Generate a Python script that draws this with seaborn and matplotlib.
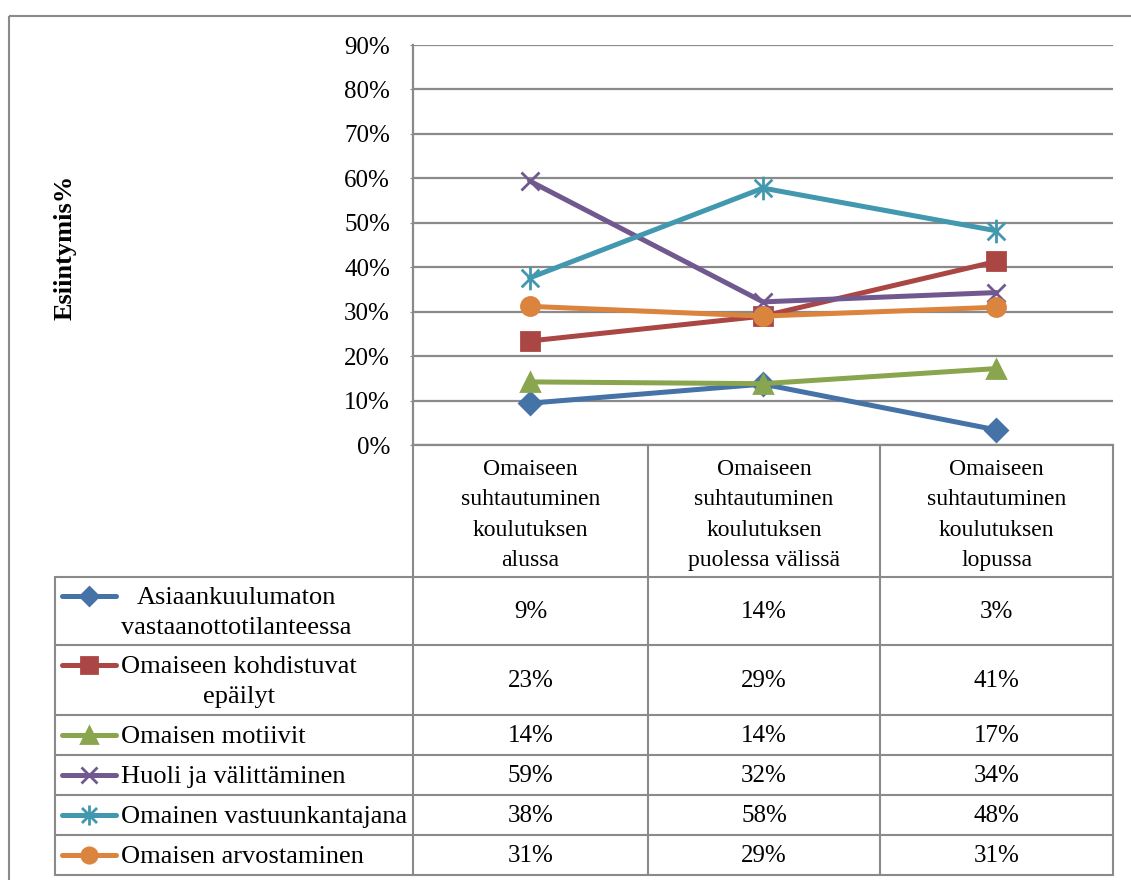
import numpy as np
import pandas as pd
import matplotlib.pyplot as plt
import seaborn as sns
from matplotlib.patches import Rectangle
from matplotlib.path import Path

# Data
stages = [
    "Omaiseen\nsuhtautuminen\nkoulutuksen\nalussa",
    "Omaiseen\nsuhtautuminen\nkoulutuksen\npuolessa välissä",
    "Omaiseen\nsuhtautuminen\nkoulutuksen\nlopussa",
]
series = [
    "Asiaankuulumaton\nvastaanottotilanteessa",
    "Omaiseen kohdistuvat\nepäilyt",
    "Omaisen motiivit",
    "Huoli ja välittäminen",
    "Omainen vastuunkantajana",
    "Omaisen arvostaminen",
]
asiaankuulumaton = [0.094, 0.137, 0.034]
epailyt = [0.234, 0.290, 0.413]
motiivit = [0.142, 0.138, 0.172]
huoli = [0.594, 0.322, 0.343]
vastuu = [0.376, 0.578, 0.482]
arvostaminen = [0.312, 0.290, 0.310]
values = [asiaankuulumaton, epailyt, motiivit, huoli, vastuu, arvostaminen]

# Excel-like star marker: an X with a vertical bar
star = Path([(0, -1), (0, 1), (-0.75, -0.75), (0.75, 0.75), (-0.75, 0.75), (0.75, -0.75)],
            [Path.MOVETO, Path.LINETO] * 3)

colors = ["#4572A7", "#AA4643", "#89A54E", "#71588F", "#4198AF", "#DB843D"]
markers = ["D", "s", "^", "x", star, "o"]
msizes = [11, 13, 13, 13, 17, 13]

df = pd.DataFrame({
    "series": np.repeat(series, len(stages)),
    "pos": np.tile(np.arange(len(stages)), len(series)),
    "value": np.concatenate(values),
})

sns.set_style("white")
plt.rcParams["font.family"] = ["Liberation Serif", "DejaVu Serif"]
plt.rcParams["text.color"] = "black"
plt.rcParams["ytick.labelcolor"] = "black"
grid_c = "#8a8a8a"

fig = plt.figure(figsize=(11.31, 8.8), dpi=100)

# Background axes in pixel coordinates for the frame and data table
tab = fig.add_axes([0, 0, 1, 1])
tab.set_xlim(0, 1131)
tab.set_ylim(880, 0)
tab.axis("off")

# outer frame
tab.add_patch(Rectangle((9, 16), 1140, 900, fill=False, ec=grid_c, lw=1.5))

# main chart
ax = fig.add_axes([413 / 1131, 1 - 445 / 880, 700 / 1131, 400 / 880])
ax.set_facecolor("none")
for name, c, m, ms in zip(series, colors, markers, msizes):
    sub = df[df["series"] == name]
    sns.lineplot(data=sub, x="pos", y="value", color=c, marker=m, ms=ms,
                 mew=2, mec=c, mfc=c, lw=3.6, ax=ax)

ax.set_xlim(-0.5, len(stages) - 0.5)
ax.set_ylim(0, 0.9)
ax.set_yticks(np.arange(0, 0.91, 0.1))
ax.set_yticklabels([f"{v:.0%}" for v in np.arange(0, 0.91, 0.1)], fontsize=18)
ax.set_xticks([])
ax.set_xlabel("")
ax.set_ylabel("")
ax.tick_params(axis="y", length=2.5, color=grid_c, pad=14, left=True)
ax.yaxis.grid(True, color=grid_c, lw=1.6)
for s in ["top", "right"]:
    ax.spines[s].set_visible(False)
for s in ["left", "bottom"]:
    ax.spines[s].set_color(grid_c)
    ax.spines[s].set_linewidth(1.6)

fig.text(65 / 1131, 1 - 247 / 880, "Esiintymis%", rotation=90, ha="center",
         va="center", fontsize=19, fontweight="bold")

# table layout (pixels)
col_edges = [413, 648, 880, 1113]
row_edges = [577, 645, 715, 755, 795, 835, 875]
tab_left = 55
top_hdr = 445

for x in col_edges:
    tab.plot([x, x], [top_hdr, row_edges[-1]], color=grid_c, lw=1.5)
tab.plot([tab_left, tab_left], [row_edges[0], row_edges[-1]], color=grid_c, lw=1.5)
for y in row_edges:
    tab.plot([tab_left, col_edges[-1]], [y, y], color=grid_c, lw=1.5)

# column headers
for i, lab in enumerate(stages):
    cx = (col_edges[i] + col_edges[i + 1]) / 2
    tab.text(cx, (top_hdr + row_edges[0]) / 2 + 4, lab, ha="center", va="center",
             fontsize=17, linespacing=1.6)

# rows: legend key + values
for r, (name, vals, c, m) in enumerate(zip(series, values, colors, markers)):
    y0, y1 = row_edges[r], row_edges[r + 1]
    cy = (y0 + y1) / 2
    ky = cy - 15 if "\n" in name else cy
    tab.plot([62, 116], [ky, ky], color=c, lw=3.6, solid_capstyle="round")
    tab.plot([89], [ky], marker=m, color=c, ms=msizes[r] * 0.85, mew=2, mec=c, mfc=c)
    tab.text(121, cy + 2, name, ha="left", va="center", fontsize=19,
             multialignment="center", linespacing=1.47)
    for i, v in enumerate(vals):
        cx = (col_edges[i] + col_edges[i + 1]) / 2
        tab.text(cx, cy + 1, f"{v:.0%}", ha="center", va="center", fontsize=18)

plt.savefig("out.png", dpi=100)
